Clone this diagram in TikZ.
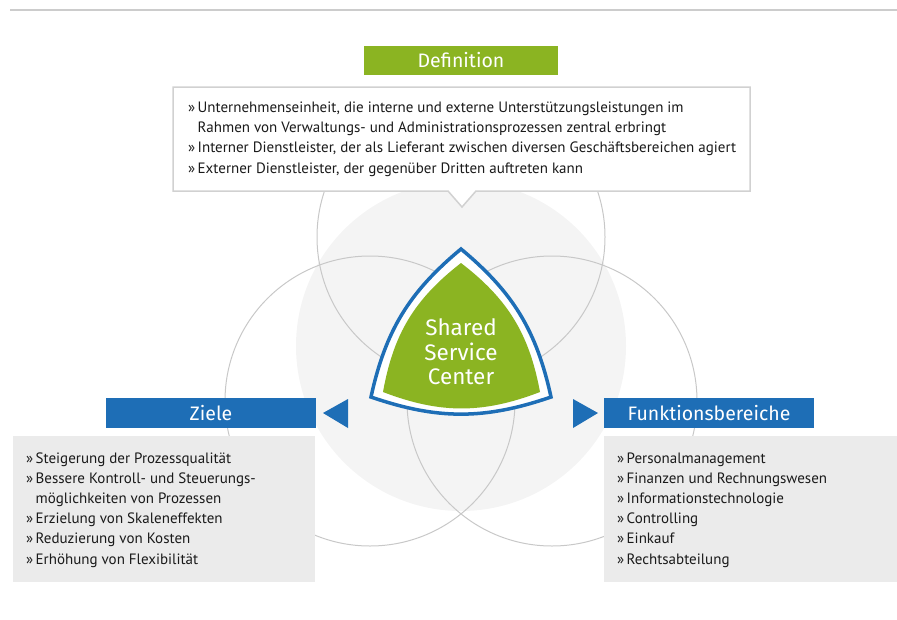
\documentclass[tikz,border=0pt]{standalone}
\usepackage{fontspec}
\setmainfont{PT Sans}
\newfontfamily\headfont{Fira Sans}
\definecolor{sscgreen}{HTML}{8BB422}
\definecolor{sscblue}{HTML}{1E6EB6}
\definecolor{circfill}{HTML}{F4F4F4}
\definecolor{circline}{HTML}{C8C8C8}
\definecolor{boxgray}{HTML}{EBEBEB}
\definecolor{txt}{HTML}{1A1A1A}
\tikzset{
  headbox/.style={fill=#1, text=white, inner sep=0pt, font=\headfont\fontsize{19.5}{22}\selectfont},
  ring/.style={draw=circline, line width=1pt},
  bullets/.style={anchor=base west, inner sep=0pt, align=left, text=txt, font=\fontsize{15}{20.2}\selectfont},
  graybox/.style={fill=boxgray, inner sep=0pt},
  tri/.style={fill=sscblue}
}
\newcommand{\bul}{\makebox[9.5pt][l]{»}}
\newcommand{\ind}{\hspace*{9.5pt}}
\begin{document}
\begin{tikzpicture}[x=1pt,y=-1pt]
\useasboundingbox (0,0) rectangle (897,619);
% top rule
\draw[line width=2pt, draw=black!20] (10,10) -- (897,10);
% big gray circle and rings
\fill[circfill] (461,346) circle[radius=165];
\draw[ring] (461,237) circle[radius=144];
\draw[ring] (370,401) circle[radius=145];
\draw[ring] (552,401) circle[radius=145];
% definition callout
\draw[draw=black!18, line width=1.5pt, fill=white]
  (173,87) -- (750,87) -- (750,191) -- (476,191) -- (462,207) -- (448,191) -- (173,191) -- cycle;
\node[headbox=sscgreen, minimum width=194pt, minimum height=29pt] (defhead) at (461,60) {Definition};
% multi-line nodes: base anchor = last baseline
\node[bullets] (deftext) at (188,112.5+60.6) {\bul Unternehmenseinheit, die interne und externe Unterstützungsleistungen im\\
\ind Rahmen von Verwaltungs- und Administrationsprozessen zentral erbringt\\
\bul Interner Dienstleister, der als Lieferant zwischen diversen Geschäftsbereichen agiert\\
\bul Externer Dienstleister, der gegenüber Dritten auftreten kann};
% left: Ziele
\node[headbox=sscblue, minimum width=210pt, minimum height=30pt] (ziele) at (211,413) {Ziele};
\node[graybox, minimum width=302pt, minimum height=146pt] (zielebox) at (164,509) {};
\node[bullets] (zieletext) at (26,463+101) {\bul Steigerung der Prozessqualität\\
\bul Bessere Kontroll- und Steuerungs-\\
\ind möglichkeiten von Prozessen\\
\bul Erzielung von Skaleneffekten\\
\bul Reduzierung von Kosten\\
\bul Erhöhung von Flexibilität};
% right: Funktionsbereiche
\node[headbox=sscblue, minimum width=210pt, minimum height=30pt] (funk) at (709,413) {Funktionsbereiche};
\node[graybox, minimum width=293pt, minimum height=146pt] (funkbox) at (750.5,509) {};
\node[bullets] (funktext) at (617,463+101) {\bul Personalmanagement\\
\bul Finanzen und Rechnungswesen\\
\bul Informationstechnologie\\
\bul Controlling\\
\bul Einkauf\\
\bul Rechtsabteilung};
% triangles
\fill[tri] (323,413) -- (348,399) -- (348,428) -- cycle;
\fill[tri] (598,413) -- (573,399) -- (573,428) -- cycle;
% center shape
\draw[draw=sscblue, line width=3.5pt, fill=white, line join=miter]
  (461,249) to[bend left=19] (551,397) to[bend left=19] (371,397) to[bend left=19] cycle;
\fill[sscgreen] (461,263) to[bend left=21] (540,392) to[bend left=21] (383,392) to[bend left=21] cycle;
\node[text=white, align=center, font=\headfont\fontsize{22.5}{24.5}\selectfont] (ssc) at (461,352) {Shared\\Service\\Center};
\end{tikzpicture}
\end{document}
